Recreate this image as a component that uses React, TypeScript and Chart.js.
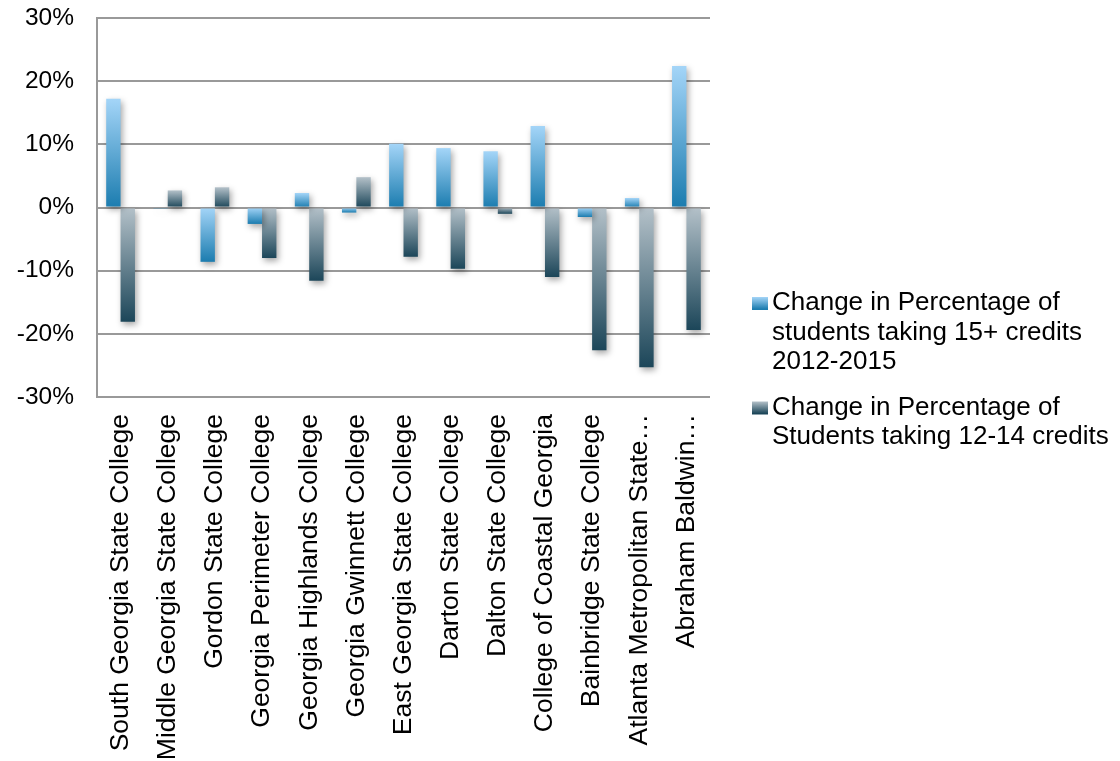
import React, { useEffect, useRef } from "react";
import { Chart, registerables } from "chart.js";

Chart.register(...registerables);

const categories = [
  "South Georgia State College",
  "Middle Georgia State College",
  "Gordon State College",
  "Georgia Perimeter College",
  "Georgia Highlands College",
  "Georgia Gwinnett College",
  "East Georgia State College",
  "Darton State College",
  "Dalton State College",
  "College of Coastal Georgia",
  "Bainbridge State College",
  "Atlanta Metropolitan State…",
  "Abraham Baldwin…",
];

const seriesLabels = [
  "Change in Percentage of students taking 15+ credits 2012-2015",
  "Change in Percentage of Students taking 12-14 credits",
];

const change15Plus = [17.2, -0.2, -8.6, -2.6, 2.3, -0.8, 10.1, 9.4, 8.9, 12.9, -1.5, 1.5, 22.4];
const change12to14 = [-18.1, 2.7, 3.2, -8.0, -11.6, 4.8, -7.8, -9.7, -1.0, -11.0, -22.6, -25.3, -19.4];

const yTicks = [-30, -20, -10, 0, 10, 20, 30];

const FONT = '"Liberation Sans", Arial, sans-serif';
const palettes = [
  { top: "#a4d5f8", bottom: "#1b7caf" },
  { top: "#b4c1c9", bottom: "#1c4659" },
];

function barGradient(ctx: any, idx: number) {
  const chart = ctx.chart;
  const y = chart.scales && chart.scales.y;
  const p = palettes[idx];
  if (!y || !chart.chartArea || ctx.raw === undefined) return p.bottom;
  const v = ctx.raw as number;
  const top = y.getPixelForValue(Math.max(v, 0));
  const bottom = y.getPixelForValue(Math.min(v, 0));
  const g = chart.ctx.createLinearGradient(0, top, 0, bottom + 0.01);
  g.addColorStop(0, p.top);
  g.addColorStop(1, p.bottom);
  return g;
}

const shadowPlugin = {
  id: "barShadow",
  beforeDatasetsDraw(chart: any) {
    const c = chart.ctx;
    c.save();
    c.shadowColor = "rgba(0,0,0,0.35)";
    c.shadowBlur = 6;
    c.shadowOffsetX = 2;
    c.shadowOffsetY = 3;
  },
  afterDatasetsDraw(chart: any) {
    chart.ctx.restore();
  },
};

function wrap(c: CanvasRenderingContext2D, text: string, maxW: number) {
  const words = text.split(" ");
  const lines: string[] = [];
  let cur = "";
  for (const w of words) {
    const t = cur ? cur + " " + w : w;
    if (c.measureText(t).width > maxW && cur) {
      lines.push(cur);
      cur = w;
    } else cur = t;
  }
  if (cur) lines.push(cur);
  return lines;
}

const legendPlugin = {
  id: "customLegend",
  afterDraw(chart: any) {
    const c: CanvasRenderingContext2D = chart.ctx;
    c.save();
    c.font = `26px ${FONT}`;
    c.fillStyle = "#000";
    c.textBaseline = "middle";
    c.textAlign = "left";
    const boxX = 752;
    const textX = 772;
    const lineH = 29.5;
    let y = 303;
    seriesLabels.forEach((label, i) => {
      const p = palettes[i];
      const g = c.createLinearGradient(0, y - 6, 0, y + 6);
      g.addColorStop(0, p.top);
      g.addColorStop(1, p.bottom);
      c.fillStyle = g;
      c.fillRect(boxX, y - 6, 16, 13);
      c.fillStyle = "#000";
      const lines = wrap(c, label, 360);
      lines.forEach((ln, k) => c.fillText(ln, textX, y + k * lineH));
      y += lines.length * lineH + 16;
    });
    c.restore();
  },
};

export default function App() {
  const ref = useRef<HTMLCanvasElement | null>(null);
  useEffect(() => {
    if (!ref.current) return;
    const chart = new Chart(ref.current, {
      type: "bar",
      data: {
        labels: categories,
        datasets: [
          {
            label: seriesLabels[0],
            data: change15Plus,
            backgroundColor: (ctx: any) => barGradient(ctx, 0),
            borderWidth: 0,
            categoryPercentage: 0.61,
            barPercentage: 1.0,
          },
          {
            label: seriesLabels[1],
            data: change12to14,
            backgroundColor: (ctx: any) => barGradient(ctx, 1),
            borderWidth: 0,
            categoryPercentage: 0.61,
            barPercentage: 1.0,
          },
        ],
      },
      options: {
        responsive: false,
        animation: false,
        layout: { padding: { top: 18, right: 410, left: 0, bottom: 0 } },
        plugins: { legend: { display: false }, tooltip: { enabled: false } },
        scales: {
          x: {
            grid: { display: false },
            border: { display: false },
            ticks: {
              autoSkip: false,
              minRotation: 90,
              maxRotation: 90,
              padding: 9,
              color: "#000",
              font: { family: FONT, size: 26.5 },
            },
            afterFit(scale: any) {
              scale.height = 364;
            },
          },
          y: {
            min: -30,
            max: 30,
            afterBuildTicks(scale: any) {
              scale.ticks = yTicks.map((v) => ({ value: v }));
            },
            grid: { color: "#999999", lineWidth: 2, drawTicks: false },
            border: { display: true, color: "#999999", width: 2 },
            ticks: {
              padding: 23,
              color: "#000",
              font: { family: FONT, size: 24.5 },
              callback: (v: any) => `${v}%`,
            },
            afterFit(scale: any) {
              scale.width = 97;
              scale.paddingTop = 0;
              scale.paddingBottom = 0;
            },
          },
        },
      },
      plugins: [shadowPlugin, legendPlugin],
    });
    return () => chart.destroy();
  }, []);
  return (
    <div style={{ position: "absolute", left: 0, top: 0, width: 1120, height: 761, background: "#fff" }}>
      <canvas ref={ref} width={1120} height={761} />
    </div>
  );
}
